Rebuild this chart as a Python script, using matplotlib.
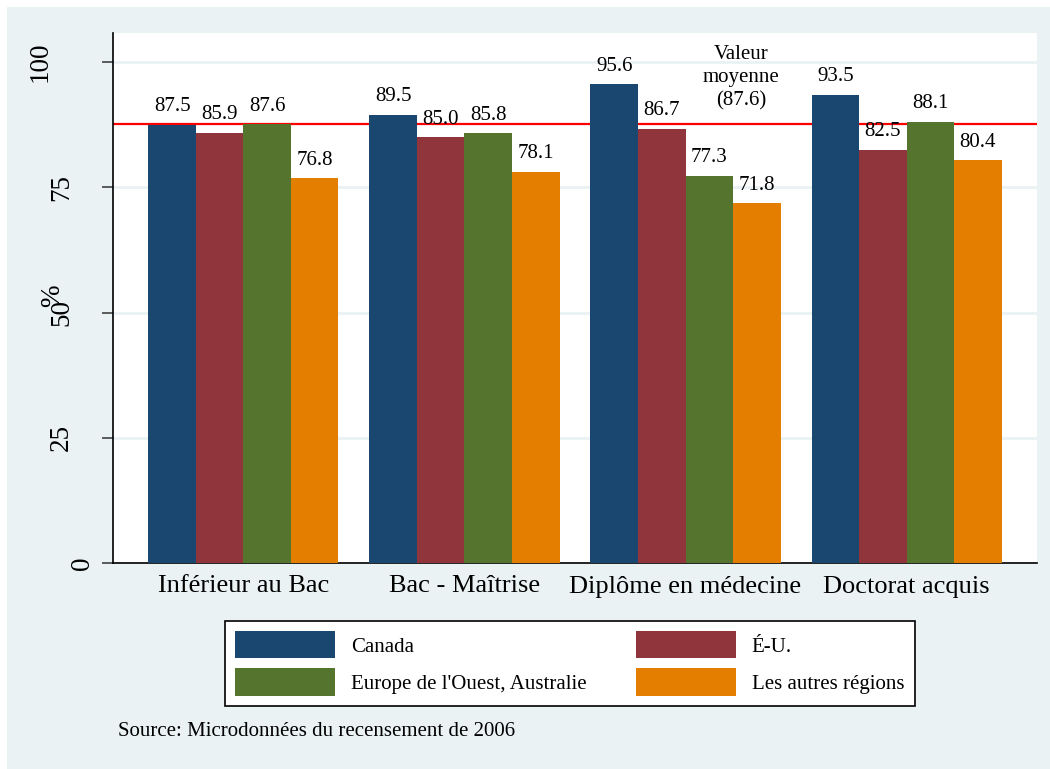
import matplotlib
matplotlib.use("Agg")
import matplotlib.pyplot as plt
import matplotlib.transforms as mtransforms
from matplotlib.patches import Rectangle, Patch
import numpy as np

plt.rcParams['font.family'] = ['Liberation Serif', 'DejaVu Serif']

# === DATA ===
CATEGORIES = ["Inférieur au Bac", "Bac - Maîtrise", "Diplôme en médecine", "Doctorat acquis"]
SERIES = ["Canada", "É-U.", "Europe de l'Ouest, Australie", "Les autres régions"]
canada = [87.5, 89.5, 95.6, 93.5]
eu = [85.9, 85.0, 86.7, 82.5]
europe = [87.6, 85.8, 77.3, 88.1]
autres = [76.8, 78.1, 71.8, 80.4]
MOYENNE = 87.6
YTICKS = [0, 25, 50, 75, 100]
SOURCE = "Source: Microdonnées du recensement de 2006"
COLORS = ["#1A476F", "#90353B", "#55752F", "#E37E00"]
BG = "#EAF2F3"

# === FIGURE ===
W, H = 1050, 769
fig = plt.figure(figsize=(W / 100, H / 100), dpi=100)
fig.patches.append(Rectangle((7 / W, 0), 1, 1 - 7 / H, transform=fig.transFigure,
                             facecolor=BG, edgecolor="none", zorder=-10))
ax = fig.add_axes([113 / W, 1 - 563 / H, 924 / W, 530 / H])

x = np.arange(1, len(CATEGORIES) + 1)
width = 0.215
values = [canada, eu, europe, autres]
for i, (vals, col) in enumerate(zip(values, COLORS)):
    pos = x + (i - 1.5) * width
    ax.bar(pos, vals, width=width, color=col, linewidth=0, zorder=3)
    for xi, v in zip(pos, vals):
        ax.annotate(f"{v:.1f}", (xi, v), xytext=(0, 6), textcoords="offset points",
                    ha="center", va="bottom", fontsize=15, zorder=4)

ax.axhline(MOYENNE, color="#FF0000", linewidth=1.6, zorder=2)
ax.text(3.25, 96.8, "Valeur\nmoyenne\n(87.6)", ha="center", va="center",
        fontsize=15, linespacing=1.3)

ax.set_xlim(0.41, 4.59)
ax.set_ylim(0, 105.8)
ax.set_xticks(x)
ax.set_xticklabels(CATEGORIES, fontsize=19)
ax.tick_params(axis="x", length=0, pad=9)
ax.set_yticks(YTICKS)
ax.set_yticklabels([])
ax.tick_params(axis="y", length=8, width=1.1, color="#333333")
ax.grid(axis="y", color=BG, linewidth=2, zorder=1)
ax.set_axisbelow(True)
for s in ["top", "right"]:
    ax.spines[s].set_visible(False)
for s in ["left", "bottom"]:
    ax.spines[s].set_linewidth(1.2)
    ax.spines[s].set_color("black")

# Stata-style rotated y labels (shifted by label length)
blend = mtransforms.blended_transform_factory(ax.transAxes, ax.transData)
for t in YTICKS:
    lab = str(t)
    off = 18 + 21 * (len(lab) - 1)
    tr = blend + mtransforms.ScaledTranslation(-off / 100, 0, fig.dpi_scale_trans)
    ax.text(0, t, lab, transform=tr, rotation=90, ha="right", va="center", fontsize=19.5)

fig.text(53 / W, 1 - 296 / H, "%", rotation=90, ha="center", va="center", fontsize=19.5)

# === LEGEND (row-wise order like the reference) ===
order = [0, 2, 1, 3]
handles = [Patch(facecolor=COLORS[k], edgecolor="none") for k in order]
labels = [SERIES[k] for k in order]
leg = fig.legend(handles, labels, ncol=2, loc="upper left",
                 bbox_to_anchor=(224.5 / W, 1 - 621 / H), bbox_transform=fig.transFigure,
                 borderaxespad=0, fontsize=15, handlelength=4.8, handleheight=1.62,
                 handletextpad=0.77, labelspacing=0.48, columnspacing=2.36,
                 borderpad=0.5, fancybox=False, framealpha=1, edgecolor="black")
leg.get_frame().set_linewidth(1.2)

fig.text(118 / W, 1 - 732 / H, SOURCE, ha="left", va="center", fontsize=15)

fig.savefig("out.png", dpi=100)
